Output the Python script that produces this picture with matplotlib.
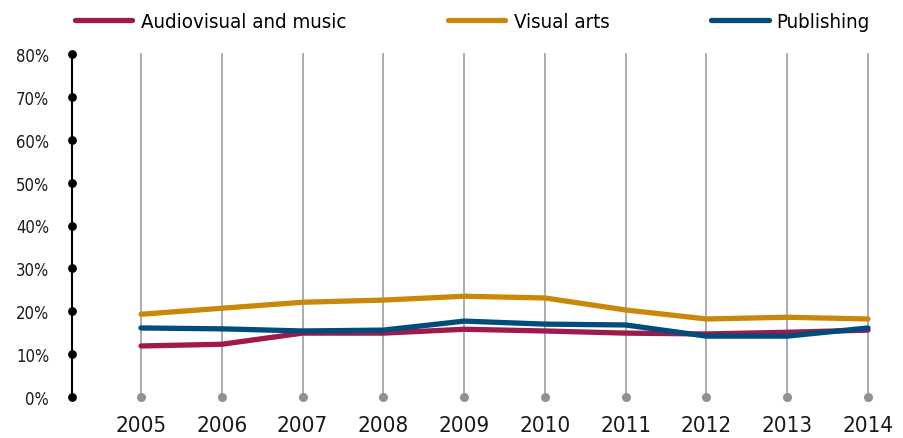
import matplotlib
matplotlib.use("Agg")
import matplotlib.pyplot as plt

plt.rcParams['font.family'] = ['DejaVu Sans']
plt.rcParams['font.stretch'] = 'condensed'

years = [2005, 2006, 2007, 2008, 2009, 2010, 2011, 2012, 2013, 2014]
audiovisual = [11.9, 12.3, 14.9, 14.9, 15.8, 15.4, 14.9, 14.7, 15.1, 15.6]
visual_arts = [19.3, 20.7, 22.1, 22.6, 23.5, 23.1, 20.3, 18.2, 18.6, 18.2]
publishing = [16.1, 15.9, 15.4, 15.6, 17.7, 17.0, 16.8, 14.2, 14.2, 16.1]
yticks = [0, 10, 20, 30, 40, 50, 60, 70, 80]

series = [
    ("Audiovisual and music", audiovisual, "#9e1a4d"),
    ("Visual arts", visual_arts, "#c8890a"),
    ("Publishing", publishing, "#004c7a"),
]

fig = plt.figure(figsize=(9.04, 4.39), dpi=100)
ax = fig.add_axes([72 / 904, 1 - 398 / 439, (880 - 72) / 904, (398 - 55) / 439])

# vertical grid lines with a dot at the base
for yr in years:
    ax.plot([yr, yr], [0, 80], color="#a3a6ab", lw=1.3, zorder=1, clip_on=False)
ax.scatter(years, [0] * len(years), s=30, color="#8e9196", zorder=2, clip_on=False)

# y axis: black line with dots
x0 = 2005 - 69 / 80.78
ax.plot([x0, x0], [0, 80], color="black", lw=1.5, clip_on=False, zorder=3)
ax.scatter([x0] * len(yticks), yticks, s=28, color="black", zorder=4, clip_on=False)

for name, vals, col in series:
    ax.plot(years, vals, color=col, lw=3.8, solid_capstyle="round",
            solid_joinstyle="round", label=name, zorder=5)

ax.set_xlim(x0, 2014 + 12 / 80.78)
ax.set_ylim(0, 80)
ax.set_xticks(years)
ax.set_xticklabels([str(y) for y in years], fontsize=16, color="#1a1a1a")
ax.set_yticks(yticks)
ax.set_yticklabels([f"{v}%" for v in yticks], fontsize=12, color="#1a1a1a")
ax.tick_params(axis="x", length=0, pad=13)
ax.tick_params(axis="y", length=0, pad=16.5)
for s in ax.spines.values():
    s.set_visible(False)

fig.legend(loc="upper left", bbox_to_anchor=(62 / 904, 1.0), ncol=3, frameon=False,
           fontsize=14.7, handlelength=2.8, handletextpad=0.4, columnspacing=5.0,
           borderaxespad=0.25)

fig.savefig("out.png", dpi=100)
